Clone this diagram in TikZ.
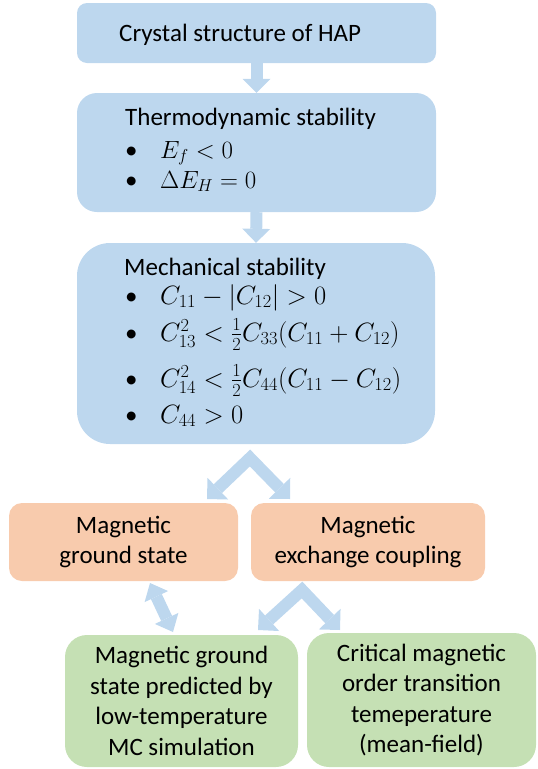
\documentclass[tikz,border=0pt]{standalone}
\usepackage{graphicx}
\usepackage{fontspec}
\setmainfont{Carlito}
\usetikzlibrary{arrows.meta,calc}
\definecolor{boxblue}{HTML}{BDD7EE}
\definecolor{boxorange}{HTML}{F8CBAD}
\definecolor{boxgreen}{HTML}{C5E0B4}
\definecolor{arrowblue}{HTML}{BDD7EE}
\newcommand{\bigmath}[1]{\scalebox{1.065}{$#1$}}
\begin{document}
\begin{tikzpicture}[x=1pt,y=-1pt,
  box/.style={fill=#1, draw=none, inner sep=0pt},
  txt/.style={font=\fontsize{25}{30.5}\selectfont, inner sep=0pt},
  flow/.style={draw=arrowblue, line width=12pt, line join=miter,
    -{Triangle[width=28pt,length=14pt,line width=0pt]}},
  flowboth/.style={draw=arrowblue, line width=12pt, line join=miter,
    {Triangle[width=30pt,length=15pt,line width=0pt]}-{Triangle[width=30pt,length=15pt,line width=0pt]}},
  dbl/.style={draw=arrowblue, line width=12pt,
    {Triangle[width=26pt,length=15pt,line width=0pt]}-{Triangle[width=26pt,length=15pt,line width=0pt]}},
  bul/.style={txt, anchor=base west}
]
\useasboundingbox (0,0) rectangle (538,769);

% boxes
\node[box=boxblue, minimum width=359pt, minimum height=60pt, rounded corners=10pt] (crystal) at (256.5,33) {};
\node[box=boxblue, minimum width=359pt, minimum height=119pt, rounded corners=20pt] (thermo) at (256.5,152.5) {};
\node[box=boxblue, minimum width=358pt, minimum height=201pt, rounded corners=33pt] (mech) at (256,343.5) {};
\node[box=boxorange, txt, align=center, minimum width=229pt, minimum height=78pt, rounded corners=13pt] (mgs) at (123.5,542) {Magnetic\\ground state};
\node[box=boxorange, txt, align=center, minimum width=234pt, minimum height=78pt, rounded corners=13pt] (mex) at (368,542) {Magnetic\\exchange coupling};
\node[box=boxgreen, txt, align=center, minimum width=233pt, minimum height=132pt, rounded corners=22pt] (mc) at (181.5,701) {Magnetic ground\\state predicted by\\low-temperature\\MC simulation};
\node[box=boxgreen, txt, align=center, minimum width=229pt, minimum height=134pt, rounded corners=22pt] (tc) at (421.5,700) {Critical magnetic\\order transition\\temeperature\\(mean-field)};

% texts in blue boxes
\node[txt, anchor=base west] (crystalT) at (119,41) {Crystal structure of HAP};
\node[txt, anchor=base west] (thermoT) at (125,125) {Thermodynamic stability};
\node[bul] (t1) at (125,158) {\makebox[35pt][l]{•}$E_f<0$};
\node[bul] (t2) at (125,188) {\makebox[35pt][l]{•}$\Delta E_H=0$};
\node[txt, anchor=base west] (mechT) at (124,275) {Mechanical stability};
\node[bul] (m1) at (125,304) {\makebox[35pt][l]{•}\bigmath{C_{11}-|C_{12}|>0}};
\node[bul] (m2) at (125,341) {\makebox[35pt][l]{•}\bigmath{C_{13}^2<\frac{1}{2}C_{33}(C_{11}+C_{12})}};
\node[bul] (m3) at (125,387) {\makebox[35pt][l]{•}\bigmath{C_{14}^2<\frac{1}{2}C_{44}(C_{11}-C_{12})}};
\node[bul] (m4) at (125,423) {\makebox[35pt][l]{•}\bigmath{C_{44}>0}};

% connector end points
\coordinate (s1) at (250,458);
\coordinate (s1L) at (207,499);
\coordinate (s1R) at (290,499);
\coordinate (s2) at (302,590);
\coordinate (s2L) at (258,630);
\coordinate (s2R) at (340,630);
\coordinate (dA) at (150,583);
\coordinate (dB) at (173,632);

% connectors
\draw[flow] (crystal.south) -- (thermo.north);
\draw[flow] (thermo.south) -- (mech.north);
\draw[flowboth] (s1L) -- (s1) -- (s1R);
\draw[flowboth] (s2L) -- (s2) -- (s2R);
\draw[dbl] (dA) -- (dB);
\end{tikzpicture}
\end{document}
